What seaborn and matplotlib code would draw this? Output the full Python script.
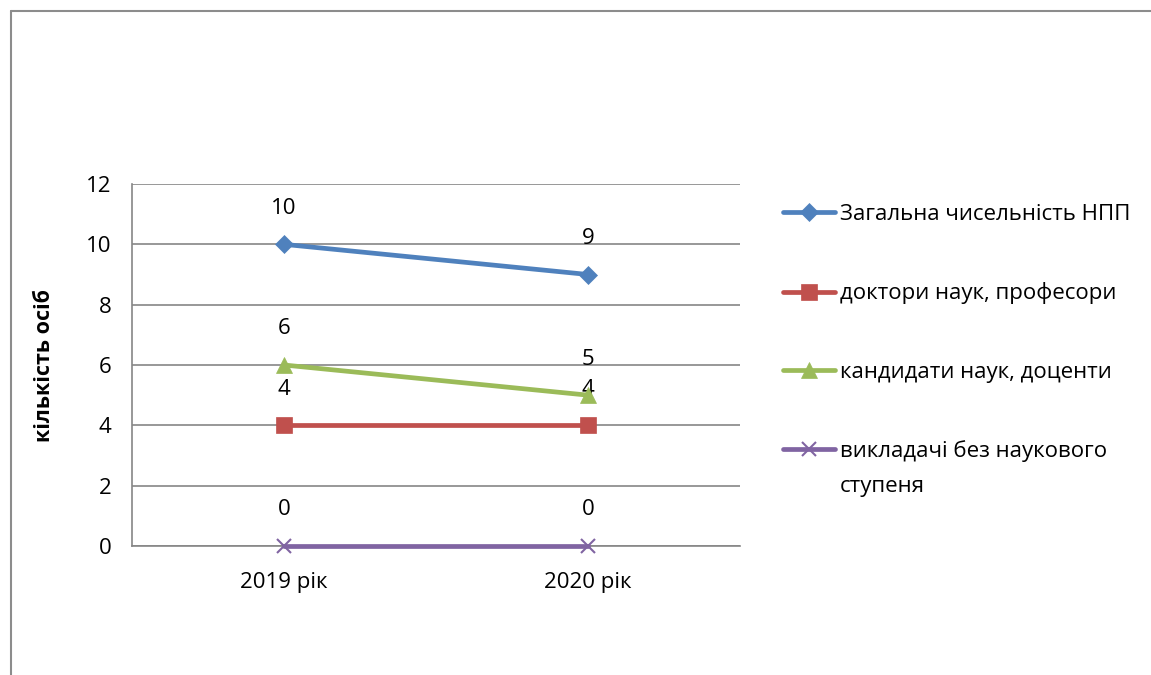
import matplotlib.pyplot as plt
from matplotlib.lines import Line2D
import pandas as pd
import seaborn as sns

# Values
years = ["2019 рік", "2020 рік"]
total_staff = [10, 9]
doctors = [4, 4]
candidates = [6, 5]
no_degree = [0, 0]

series_names = [
    "Загальна чисельність НПП",
    "доктори наук, професори",
    "кандидати наук, доценти",
    "викладачі без наукового",
]
series_values = [total_staff, doctors, candidates, no_degree]
colors = ["#4F81BD", "#C0504D", "#9BBB59", "#8064A2"]
markers = ["D", "s", "^", "x"]
marker_sizes = [9.5, 11, 11, 10]

sns.set_style("white")
plt.rcParams["font.family"] = ["Open Sans", "DejaVu Sans"]
plt.rcParams["text.color"] = "black"
FS = 16

W, H = 1151, 675
fig = plt.figure(figsize=(W / 100, H / 100), dpi=100)
ax = fig.add_axes([132 / W, 1 - 546 / H, 608 / W, 362 / H])

for name, vals, c, m, ms in zip(series_names, series_values, colors, markers, marker_sizes):
    df = pd.DataFrame({"year": years, "value": vals})
    sns.lineplot(data=df, x="year", y="value", color=c, marker=m, markersize=ms,
                 markeredgecolor=c, markeredgewidth=1.5 if m == "x" else 0.5,
                 linewidth=3.4, label=name, sort=False, ax=ax, clip_on=False, zorder=3)
    # data labels above each point
    for i, v in enumerate(vals):
        ax.annotate(str(v), (i, v), xytext=(0, 26), textcoords="offset points",
                    ha="center", va="center", fontsize=FS, color="black")

ax.set_xlim(-0.5, 1.5)
ax.set_ylim(0, 12)
ax.set_yticks(range(0, 13, 2))
ax.yaxis.grid(True, color="#868686", linewidth=1.2)
ax.xaxis.grid(False)
for side in ["top", "right"]:
    ax.spines[side].set_visible(False)
for side in ["left", "bottom"]:
    ax.spines[side].set_color("#868686")
    ax.spines[side].set_linewidth(1.2)
ax.tick_params(axis="both", length=0, labelsize=FS, colors="black")
ax.tick_params(axis="y", pad=15)
ax.tick_params(axis="x", pad=19)
ax.set_xlabel("")
ax.set_ylabel("")
fig.text(45 / W, 1 - 365 / H, "кількість осіб", rotation=90, ha="center", va="center",
         fontsize=15.5, fontweight="bold", color="black")

handles, labels = ax.get_legend_handles_labels()
leg = ax.legend(handles, labels, loc="upper left", bbox_to_anchor=(783 / W, 1 - 204 / H),
                bbox_transform=fig.transFigure, frameon=False, fontsize=FS,
                handlelength=2.35, handletextpad=0.2, labelspacing=2.58,
                borderpad=0, borderaxespad=0, labelcolor="black")

# second line of the last legend entry, as in the original wrapped label
fig.canvas.draw()
last = leg.get_texts()[-1].get_window_extent()
fig.text(last.x0 / W, (last.y0 - 36 + last.height / 2) / H, "ступеня",
         ha="left", va="center", fontsize=FS, color="black")

# outer chart-area border (left and top edges are visible)
fig.add_artist(Line2D([11 / W, 11 / W], [0, 1 - 11 / H], color="#8c8c8c", linewidth=1.5))
fig.add_artist(Line2D([11 / W, 1], [1 - 11 / H, 1 - 11 / H], color="#8c8c8c", linewidth=1.5))

fig.savefig("out.png", dpi=100)
